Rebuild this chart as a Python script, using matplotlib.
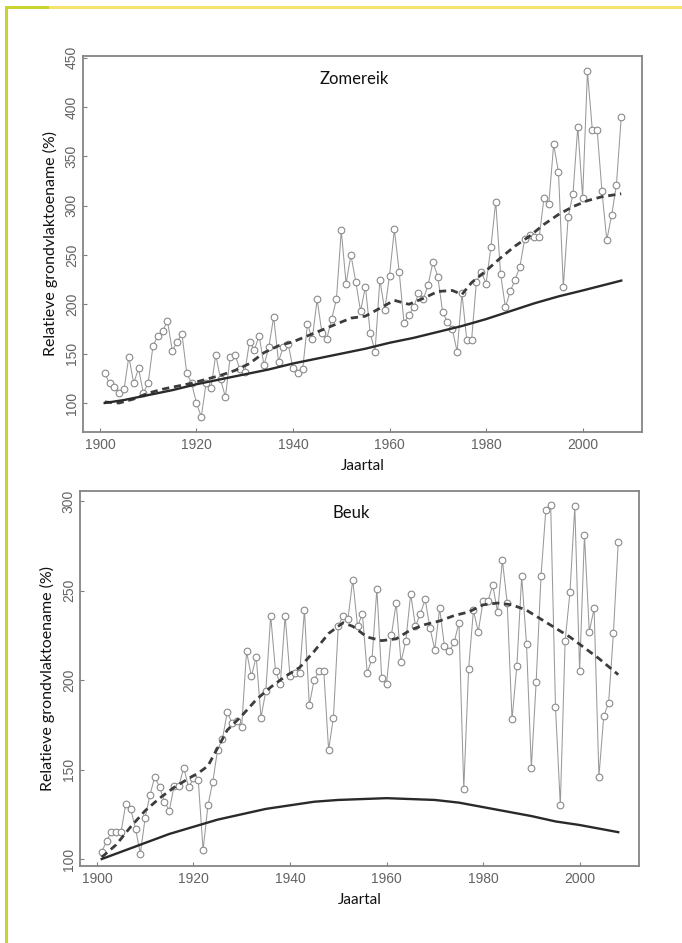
import numpy as np
import matplotlib.pyplot as plt
from matplotlib.patches import Rectangle

# jaarlijkse relatieve grondvlaktoename, 1901-2008
years = np.arange(1901, 2009)

zomereik = [130, 120, 116, 110, 114, 147, 120, 135, 110, 120,
            158, 168, 173, 183, 153, 162, 170, 130, 120, 100,
            86, 120, 115, 149, 124, 106, 147, 149, 134, 131,
            162, 154, 168, 138, 157, 187, 142, 157, 160, 135,
            130, 134, 180, 165, 205, 171, 165, 185, 205, 275,
            221, 250, 223, 193, 218, 171, 152, 225, 194, 229,
            276, 233, 181, 189, 197, 211, 205, 220, 243, 228,
            192, 182, 175, 152, 211, 164, 164, 223, 233, 221,
            258, 304, 231, 197, 213, 225, 238, 266, 270, 268,
            268, 308, 302, 362, 334, 218, 288, 312, 380, 308,
            436, 377, 377, 315, 265, 290, 321, 390]

beuk = [104, 110, 115, 115, 115, 131, 128, 117, 103, 123,
        136, 146, 140, 132, 127, 141, 141, 151, 140, 145,
        144, 105, 130, 143, 161, 167, 182, 176, 177, 174,
        216, 202, 213, 179, 194, 236, 205, 198, 236, 202,
        204, 204, 239, 186, 200, 205, 205, 161, 179, 230,
        236, 234, 256, 230, 237, 204, 212, 251, 201, 198,
        225, 243, 210, 222, 248, 230, 237, 245, 229, 217,
        240, 219, 216, 221, 232, 139, 206, 239, 227, 244,
        244, 253, 238, 267, 243, 178, 208, 258, 220, 151,
        199, 258, 295, 298, 185, 130, 222, 249, 297, 205,
        281, 227, 240, 146, 180, 187, 226, 277]

# gladgestreken trend (gestreept)
zom_smooth_x = [1901, 1904, 1907, 1910, 1913, 1916, 1919, 1922, 1925, 1928,
                1931, 1934, 1937, 1940, 1943, 1946, 1949, 1952, 1955, 1958,
                1961, 1964, 1967, 1970, 1973, 1975, 1977, 1980, 1983, 1986,
                1989, 1992, 1995, 1998, 2001, 2004, 2008]
zom_smooth_y = [101, 100, 104, 110, 114, 117, 120, 124, 128, 133,
                140, 151, 158, 162, 168, 174, 180, 186, 188, 196,
                204, 200, 206, 213, 214, 210, 222, 234, 247, 259,
                269, 281, 291, 299, 305, 309, 312]

beuk_smooth_x = [1901, 1904, 1907, 1910, 1913, 1916, 1919, 1921, 1923, 1925,
                 1927, 1930, 1933, 1936, 1939, 1942, 1945, 1948, 1951, 1953,
                 1956, 1959, 1962, 1965, 1968, 1971, 1974, 1977, 1980, 1983,
                 1986, 1989, 1992, 1995, 1998, 2001, 2004, 2008]
beuk_smooth_y = [101, 108, 118, 127, 134, 140, 145, 148, 152, 162,
                 172, 180, 189, 196, 202, 207, 216, 226, 232, 230,
                 224, 222, 223, 228, 231, 233, 236, 238, 242, 243,
                 242, 239, 234, 229, 224, 218, 212, 203]

# referentiecurve (doorgetrokken)
zom_ref_x = [1901, 1905, 1910, 1915, 1920, 1925, 1930, 1935, 1940, 1945, 1950,
             1955, 1960, 1965, 1970, 1975, 1980, 1985, 1990, 1995, 2000, 2004, 2008]
zom_ref_y = [100, 103, 108, 113, 119, 124, 129, 134, 140, 145, 150,
             155, 161, 166, 172, 178, 185, 193, 201, 208, 214, 219, 224]

beuk_ref_x = [1901, 1905, 1910, 1915, 1920, 1925, 1930, 1935, 1940, 1945, 1950,
              1955, 1960, 1965, 1970, 1975, 1980, 1985, 1990, 1995, 2000, 2004, 2008]
beuk_ref_y = [100, 104, 109, 114, 118, 122, 125, 128, 130, 132, 133,
              133.5, 134, 133.5, 133, 131.5, 129, 126.5, 124, 121, 119, 117, 115]

xticks = [1900, 1920, 1940, 1960, 1980, 2000]
zom_yticks = [100, 150, 200, 250, 300, 350, 400, 450]
beuk_yticks = [100, 150, 200, 250, 300]

ylabel = "Relatieve grondvlaktoename (%)"
xlabel = "Jaartal"

fig = plt.figure(figsize=(6.82, 9.43), dpi=100)
fig.patch.set_facecolor('white')

# kader van de pagina
fig.add_artist(Rectangle((5 / 682, 0), 3 / 682, 1 - 6 / 943,
                         transform=fig.transFigure, color='#c9d52e', lw=0))
fig.add_artist(Rectangle((5 / 682, 1 - 9 / 943), 44 / 682, 3 / 943,
                         transform=fig.transFigure, color='#c9d52e', lw=0))
fig.add_artist(Rectangle((49 / 682, 1 - 9 / 943), 1 - 49 / 682, 3 / 943,
                         transform=fig.transFigure, color='#f7e26e', lw=0))

panels = [
    ([83 / 682, 1 - 432 / 943, 559 / 682, 376 / 943], zomereik, zom_smooth_x, zom_smooth_y,
     zom_ref_x, zom_ref_y, (70.6, 451.6), zom_yticks, "Zomereik"),
    ([80 / 682, 1 - 866 / 943, 559 / 682, 375 / 943], beuk, beuk_smooth_x, beuk_smooth_y,
     beuk_ref_x, beuk_ref_y, (96.1, 305.6), beuk_yticks, "Beuk"),
]

for rect, vals, sx, sy, rx, ry, ylim, yt, title in panels:
    ax = fig.add_axes(rect)
    ax.plot(years, vals, color='#999999', lw=0.75, marker='o', ms=4.8,
            mfc='white', mec='#8a8a8a', mew=0.8, zorder=2)
    ax.plot(sx, sy, color='#3c3c3c', lw=2.0, ls=(0, (2.6, 1.7)), zorder=3)
    ax.plot(rx, ry, color='#2a2a2a', lw=1.7, zorder=3)

    ax.set_xlim(1896.5, 2012.3)
    ax.set_ylim(*ylim)
    ax.set_xticks(xticks)
    ax.set_yticks(yt)
    ax.tick_params(direction='in', length=3, width=0.8, color='#808080',
                   labelcolor='#636363', labelsize=10)
    ax.tick_params(axis='y', pad=3)
    ax.tick_params(axis='x', pad=4)
    for lab in ax.get_xticklabels() + ax.get_yticklabels():
        lab.set_family('Liberation Sans')
    for lab in ax.get_yticklabels():
        lab.set_rotation(90)
        lab.set_va('center')
    for sp in ax.spines.values():
        sp.set_color('#858585')
        sp.set_linewidth(1.3)

    ax.text(0.485, 0.94, title, transform=ax.transAxes, ha='center', va='center',
            fontsize=12, family='Lato', color='#111111')
    ax.set_xlabel(xlabel, family='Lato', fontsize=11, color='#111111', labelpad=5)
    ax.set_ylabel(ylabel, family='Lato', fontsize=11.5, color='#111111', labelpad=5)

fig.savefig('out.png', dpi=100, facecolor='white')
